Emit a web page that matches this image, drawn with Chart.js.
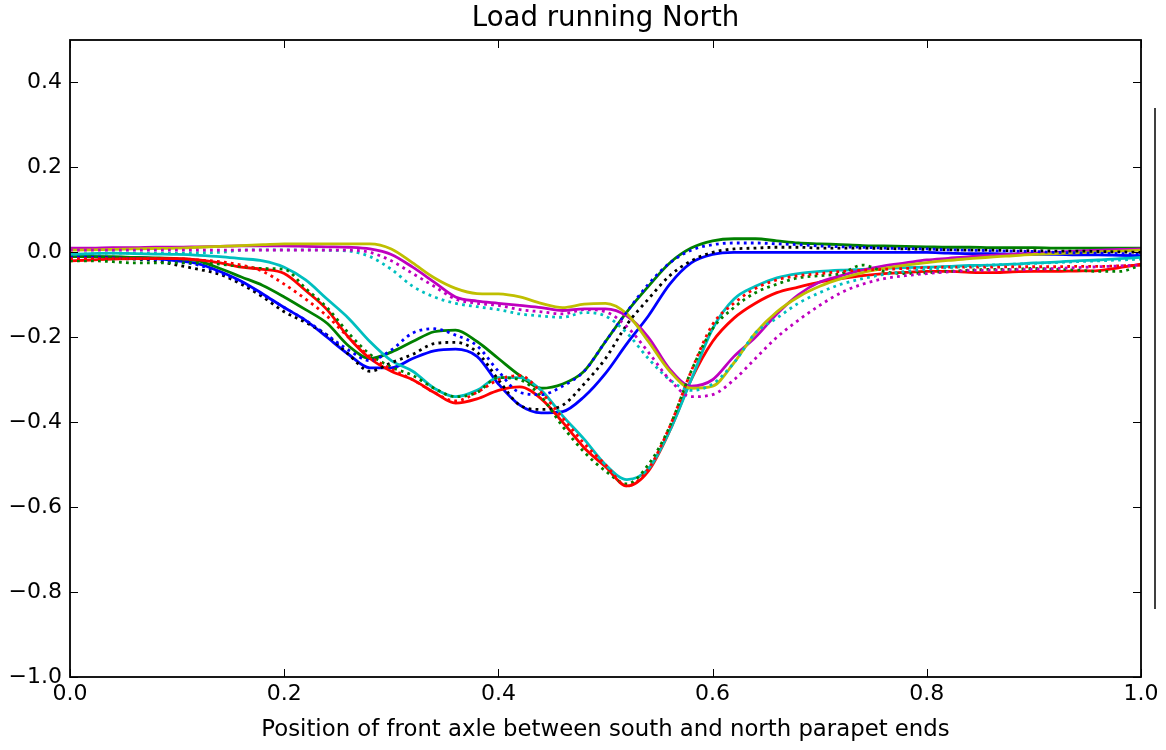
<!DOCTYPE html>
<html>
<head>
<meta charset="utf-8">
<script src="https://cdn.jsdelivr.net/npm/chart.js@4/dist/chart.umd.min.js"></script>
<style>
  html, body { margin: 0; padding: 0; background: #fff; }
  #wrap { width: 1166px; height: 750px; }
</style>
</head>
<body>
<div id="wrap"><canvas id="c" width="1166" height="750"></canvas></div>
<script>
// sample positions along the bridge (fraction between parapet ends)
const xs = [0, 0.02, 0.04, 0.06, 0.08, 0.10, 0.12, 0.14, 0.16, 0.18,
  0.20, 0.22, 0.24, 0.26, 0.28, 0.30, 0.32, 0.34, 0.36, 0.38,
  0.40, 0.42, 0.44, 0.46, 0.48, 0.50, 0.52, 0.54, 0.56, 0.58,
  0.60, 0.62, 0.64, 0.66, 0.68, 0.70, 0.72, 0.74, 0.76, 0.78,
  0.80, 0.82, 0.84, 0.86, 0.88, 0.90, 0.92, 0.94, 0.96, 0.98, 1.00];

const xTicks = [0.0, 0.2, 0.4, 0.6, 0.8, 1.0];
const yTicks = [-1.0, -0.8, -0.6, -0.4, -0.2, 0.0, 0.2, 0.4];

const titleText = "Load running North";
const xLabel = "Position of front axle between south and north parapet ends";

// solid lines
const blueSolid = [-0.01, -0.01, -0.012, -0.012, -0.015, -0.02, -0.027, -0.045, -0.068, -0.098,
  -0.13, -0.16, -0.2, -0.24, -0.272, -0.272, -0.25, -0.232, -0.228, -0.245,
  -0.31, -0.36, -0.378, -0.375, -0.34, -0.285, -0.215, -0.15, -0.075, -0.025,
  -0.005, 0, 0, 0, 0, 0, 0, 0, 0, 0,
  0, -0.002, -0.003, -0.003, -0.004, -0.005, -0.005, -0.006, -0.006, -0.007, -0.008];
const greenSolid = [-0.01, -0.01, -0.01, -0.012, -0.013, -0.015, -0.02, -0.038, -0.058, -0.078,
  -0.105, -0.135, -0.167, -0.22, -0.25, -0.235, -0.21, -0.187, -0.183, -0.21,
  -0.25, -0.29, -0.32, -0.31, -0.28, -0.21, -0.14, -0.08, -0.025, 0.01,
  0.027, 0.032, 0.032, 0.027, 0.022, 0.02, 0.018, 0.016, 0.015, 0.014,
  0.013, 0.012, 0.012, 0.011, 0.011, 0.011, 0.01, 0.01, 0.01, 0.01, 0.01];
const redSolid = [-0.02, -0.018, -0.016, -0.015, -0.015, -0.015, -0.018, -0.025, -0.035, -0.04,
  -0.05, -0.09, -0.135, -0.2, -0.25, -0.28, -0.3, -0.33, -0.355, -0.345,
  -0.325, -0.317, -0.345, -0.4, -0.46, -0.505, -0.55, -0.515, -0.42, -0.3,
  -0.21, -0.155, -0.12, -0.095, -0.082, -0.07, -0.062, -0.055, -0.05, -0.047,
  -0.045, -0.045, -0.047, -0.048, -0.046, -0.045, -0.045, -0.044, -0.043, -0.036, -0.028];
const cyanSolid = [-0.005, -0.003, -0.002, -0.003, -0.004, -0.005, -0.007, -0.01, -0.015, -0.02,
  -0.035, -0.065, -0.11, -0.155, -0.21, -0.255, -0.28, -0.32, -0.34, -0.325,
  -0.295, -0.295, -0.325, -0.385, -0.44, -0.5, -0.535, -0.51, -0.42, -0.3,
  -0.18, -0.11, -0.08, -0.06, -0.05, -0.045, -0.042, -0.04, -0.038, -0.036,
  -0.035, -0.033, -0.031, -0.03, -0.028, -0.025, -0.023, -0.02, -0.018, -0.015, -0.012];
const magentaSolid = [0.01, 0.01, 0.011, 0.011, 0.012, 0.012, 0.013, 0.014, 0.015, 0.015,
  0.015, 0.014, 0.013, 0.012, 0.008, -0.005, -0.035, -0.07, -0.105, -0.115,
  -0.12, -0.125, -0.13, -0.137, -0.133, -0.133, -0.15, -0.2, -0.275, -0.315,
  -0.3, -0.245, -0.2, -0.145, -0.1, -0.07, -0.055, -0.042, -0.032, -0.025,
  -0.018, -0.014, -0.01, -0.007, -0.004, -0.002, 0, 0.003, 0.005, 0.007, 0.008];
const yellowSolid = [0.005, 0.006, 0.007, 0.008, 0.009, 0.01, 0.012, 0.014, 0.016, 0.018,
  0.02, 0.02, 0.02, 0.02, 0.02, 0.008, -0.025, -0.06, -0.085, -0.097,
  -0.098, -0.105, -0.12, -0.13, -0.122, -0.12, -0.145, -0.21, -0.28, -0.32,
  -0.315, -0.26, -0.19, -0.14, -0.105, -0.08, -0.062, -0.048, -0.038, -0.03,
  -0.024, -0.019, -0.015, -0.011, -0.008, -0.005, -0.003, -0.001, 0.001, 0.003, 0.005];

// dotted lines
const blackDotted = [-0.01, -0.012, -0.014, -0.016, -0.02, -0.03, -0.04, -0.052, -0.075, -0.105,
  -0.14, -0.165, -0.195, -0.24, -0.28, -0.26, -0.24, -0.215, -0.212, -0.235,
  -0.3, -0.36, -0.37, -0.36, -0.31, -0.25, -0.17, -0.11, -0.055, -0.02,
  0, 0.008, 0.01, 0.012, 0.012, 0.01, 0.01, 0.01, 0.009, 0.008,
  0.007, 0.006, 0.005, 0.005, 0.004, 0.004, 0.003, 0.003, 0.002, 0.001, 0];
const blueDotted = [-0.012, -0.012, -0.013, -0.015, -0.017, -0.022, -0.03, -0.048, -0.07, -0.1,
  -0.13, -0.16, -0.195, -0.23, -0.255, -0.23, -0.19, -0.18, -0.195, -0.22,
  -0.28, -0.33, -0.335, -0.315, -0.28, -0.21, -0.14, -0.075, -0.025, 0.005,
  0.018, 0.022, 0.022, 0.02, 0.018, 0.015, 0.013, 0.012, 0.01, 0.009,
  0.008, 0.006, 0.005, 0.004, 0.003, 0.002, 0, -0.001, -0.002, -0.003, -0.004];
const greenDotted = [-0.02, -0.02, -0.022, -0.025, -0.025, -0.025, -0.025, -0.028, -0.033, -0.038,
  -0.04, -0.085, -0.13, -0.19, -0.24, -0.27, -0.29, -0.32, -0.34, -0.33,
  -0.295, -0.3, -0.34, -0.41, -0.47, -0.515, -0.545, -0.5, -0.41, -0.28,
  -0.18, -0.13, -0.095, -0.075, -0.06, -0.055, -0.05, -0.03, -0.045, -0.05,
  -0.048, -0.045, -0.042, -0.04, -0.04, -0.038, -0.04, -0.042, -0.045, -0.045, -0.03];
const redDotted = [-0.015, -0.015, -0.015, -0.015, -0.015, -0.015, -0.018, -0.022, -0.03, -0.045,
  -0.075, -0.11, -0.15, -0.2, -0.245, -0.275, -0.3, -0.33, -0.35, -0.33,
  -0.3, -0.29, -0.33, -0.39, -0.45, -0.5, -0.55, -0.51, -0.41, -0.28,
  -0.17, -0.12, -0.085, -0.065, -0.055, -0.05, -0.045, -0.042, -0.04, -0.038,
  -0.036, -0.035, -0.035, -0.035, -0.034, -0.034, -0.034, -0.033, -0.033, -0.032, -0.03];
const cyanDotted = [-0.005, -0.003, -0.002, -0.002, -0.002, -0.002, -0.001, 0, 0.005, 0.006,
  0.006, 0.006, 0.005, 0.003, -0.01, -0.04, -0.08, -0.105, -0.12, -0.128,
  -0.135, -0.145, -0.15, -0.153, -0.142, -0.15, -0.19, -0.25, -0.3, -0.325,
  -0.31, -0.26, -0.19, -0.155, -0.12, -0.095, -0.075, -0.062, -0.052, -0.045,
  -0.04, -0.036, -0.033, -0.03, -0.028, -0.026, -0.024, -0.022, -0.02, -0.018, -0.016];
const magentaDotted = [0.005, 0.005, 0.005, 0.005, 0.005, 0.005, 0.005, 0.005, 0.005, 0.005,
  0.005, 0.005, 0.005, 0.005, 0, -0.02, -0.05, -0.08, -0.11, -0.12,
  -0.125, -0.135, -0.14, -0.145, -0.135, -0.14, -0.175, -0.235, -0.3, -0.34,
  -0.335, -0.3, -0.25, -0.2, -0.16, -0.125, -0.095, -0.075, -0.062, -0.055,
  -0.05, -0.046, -0.043, -0.042, -0.041, -0.04, -0.038, -0.036, -0.034, -0.032, -0.03];

const series = [
  { values: blueSolid, color: "#0000ff", dotted: false },
  { values: greenSolid, color: "#008000", dotted: false },
  { values: redSolid, color: "#ff0000", dotted: false },
  { values: cyanSolid, color: "#00bfbf", dotted: false },
  { values: magentaSolid, color: "#bf00bf", dotted: false },
  { values: yellowSolid, color: "#bfbf00", dotted: false },
  { values: blackDotted, color: "#000000", dotted: true },
  { values: blueDotted, color: "#0000ff", dotted: true },
  { values: greenDotted, color: "#008000", dotted: true },
  { values: redDotted, color: "#ff0000", dotted: true },
  { values: cyanDotted, color: "#00bfbf", dotted: true },
  { values: magentaDotted, color: "#bf00bf", dotted: true },
];

const FONT = "'DejaVu Sans', sans-serif";

const datasets = [];
series.forEach((s, i) => {
  datasets.push({
    data: xs.map((x, k) => ({ x: x, y: s.values[k] })),
    borderColor: s.color,
    backgroundColor: s.color,
    borderWidth: 2.8,
    borderDash: s.dotted ? [2.8, 4.2] : [],
    pointRadius: 0,
    cubicInterpolationMode: "monotone",
    fill: false,
    order: series.length - 1 - i, // later series drawn on top, like matplotlib
  });
});

function fmt(v) {
  return v.toFixed(1).replace("-", "\u2212");
}

// title over the axes, frame, inward ticks and the clipped legend edge on the right
const framePlugin = {
  id: "frame",
  afterDraw(chart) {
    const { ctx, chartArea: a, scales } = chart;
    ctx.save();
    ctx.fillStyle = "#000";
    ctx.font = "27.6px " + FONT;
    ctx.textAlign = "center";
    ctx.textBaseline = "middle";
    ctx.fillText(titleText, (a.left + a.right) / 2, 19);

    ctx.strokeStyle = "#000";
    ctx.lineWidth = 1;
    ctx.beginPath();
    xTicks.forEach((v) => {
      const px = Math.round(scales.x.getPixelForValue(v)) + 0.5;
      ctx.moveTo(px, a.bottom);
      ctx.lineTo(px, a.bottom - 8);
      ctx.moveTo(px, a.top);
      ctx.lineTo(px, a.top + 8);
    });
    yTicks.forEach((v) => {
      const py = Math.round(scales.y.getPixelForValue(v)) + 0.5;
      ctx.moveTo(a.left, py);
      ctx.lineTo(a.left + 8, py);
      ctx.moveTo(a.right, py);
      ctx.lineTo(a.right - 8, py);
    });
    ctx.stroke();
    ctx.lineWidth = 1.8;
    ctx.strokeRect(a.left, a.top, a.right - a.left, a.bottom - a.top);
    ctx.lineWidth = 1.5;
    ctx.beginPath();
    ctx.moveTo(a.right + 14, scales.y.getPixelForValue(0.34));
    ctx.lineTo(a.right + 14, scales.y.getPixelForValue(-0.84));
    ctx.stroke();
    ctx.restore();
  },
};

new Chart(document.getElementById("c"), {
  type: "line",
  data: { datasets: datasets },
  options: {
    responsive: false,
    animation: false,
    layout: { padding: { left: 0, right: 25, top: 40, bottom: 0 } },
    scales: {
      x: {
        type: "linear",
        min: 0,
        max: 1,
        grid: { display: false, drawTicks: false },
        border: { display: false },
        afterBuildTicks(scale) {
          scale.ticks = xTicks.map((v) => ({ value: v }));
        },
        afterFit(scale) {
          scale.height = 73;
          scale.paddingLeft = 0;
          scale.paddingRight = 0;
        },
        ticks: {
          color: "#000",
          padding: 4,
          maxRotation: 0,
          font: { family: FONT, size: 22 },
          callback: (v) => fmt(v),
        },
        title: {
          display: true,
          text: xLabel,
          color: "#000",
          font: { family: FONT, size: 22.8 },
          padding: { top: 0, bottom: 6 },
        },
      },
      y: {
        type: "linear",
        min: -1,
        max: 0.5,
        grid: { display: false, drawTicks: false },
        border: { display: false },
        afterBuildTicks(scale) {
          scale.ticks = yTicks.map((v) => ({ value: v }));
        },
        afterFit(scale) {
          scale.width = 70;
          scale.paddingTop = 0;
          scale.paddingBottom = 0;
        },
        ticks: {
          color: "#000",
          padding: 8,
          font: { family: FONT, size: 22 },
          callback: (v) => fmt(v),
        },
      },
    },
    plugins: {
      legend: { display: false },
      tooltip: { enabled: false },
      title: { display: false },
    },
  },
  plugins: [framePlugin],
});
</script>
</body>
</html>
